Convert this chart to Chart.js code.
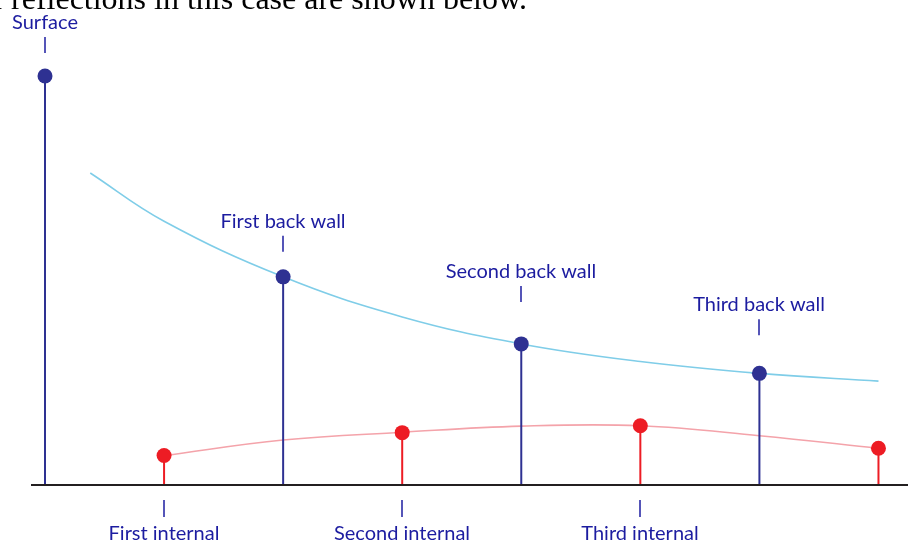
<!DOCTYPE html>
<html>
<head>
<meta charset="utf-8">
<script src="https://cdn.jsdelivr.net/npm/chart.js@4/dist/chart.umd.min.js"></script>
<style>
  html, body { margin: 0; padding: 0; background: #fff; }
  canvas { display: block; }
</style>
</head>
<body>
<canvas id="echoChart" width="908" height="545"></canvas>
<script>
// Reflection positions (time steps) and amplitudes
const wallPos = [0, 2, 4, 6];
const wallAmp = [100, 50.9, 34.5, 27.3];
const wallLabels = ['Surface', 'First back wall', 'Second back wall', 'Third back wall'];

const internalPos = [1, 3, 5, 7];
const internalAmp = [7.2, 12.8, 14.5, 9.0];
const internalLabels = ['First internal', 'Second internal', 'Third internal'];

// Envelope curves
const decayPos = [0.38, 1, 2, 3, 4, 5, 6, 7];
const decayAmp = [76.3, 64.5, 50.9, 41.1, 34.5, 30.2, 27.3, 25.4];
const trendPos = [1, 2, 3, 4, 5, 6, 7];
const trendAmp = [7.2, 11.0, 12.9, 14.4, 14.5, 12.05, 9.0];

const caption = 'of reflections in this case are shown below.';

const NAVY = '#2e3192';
const RED = '#ed1c24';
const LABEL = '#1c1ca0';

const pts = (xs, ys) => xs.map((x, i) => ({ x: x, y: ys[i] }));

// baseline + labels drawn from the scales
const annotations = {
  id: 'annotations',
  afterDatasetsDraw(chart) {
    const ctx = chart.ctx;
    const ys = chart.scales.y;
    const area = chart.chartArea;
    const y0 = ys.getPixelForValue(0);

    ctx.save();
    ctx.strokeStyle = '#231f20';
    ctx.lineWidth = 2;
    ctx.beginPath();
    ctx.moveTo(area.left, y0);
    ctx.lineTo(area.right, y0);
    ctx.stroke();
    ctx.restore();
  },
  afterDraw(chart) {
    const ctx = chart.ctx;
    const xs = chart.scales.x;
    const ys = chart.scales.y;
    const y0 = ys.getPixelForValue(0);
    const gaps = [23, 25, 42, 38];

    ctx.save();
    ctx.fillStyle = LABEL;
    ctx.strokeStyle = LABEL;
    ctx.lineWidth = 1.5;
    ctx.font = '20px Lato';
    ctx.textAlign = 'center';
    ctx.textBaseline = 'alphabetic';

    wallLabels.forEach((txt, i) => {
      const px = Math.round(xs.getPixelForValue(wallPos[i]));
      const py = ys.getPixelForValue(wallAmp[i]);
      const tickBottom = py - gaps[i];
      const tickTop = tickBottom - 16;
      ctx.beginPath();
      ctx.moveTo(px, tickTop);
      ctx.lineTo(px, tickBottom);
      ctx.stroke();
      ctx.fillText(txt, px, tickTop - 8);
    });

    internalLabels.forEach((txt, i) => {
      const px = Math.round(xs.getPixelForValue(internalPos[i]));
      ctx.beginPath();
      ctx.moveTo(px, y0 + 15);
      ctx.lineTo(px, y0 + 32);
      ctx.stroke();
      ctx.fillText(txt, px, y0 + 55);
    });

    // caption line cut off at the top of the figure
    ctx.fillStyle = '#000';
    ctx.font = '32px "Liberation Serif"';
    ctx.textAlign = 'right';
    ctx.fillText(caption, 527, 9);
    ctx.restore();
  }
};

new Chart(document.getElementById('echoChart').getContext('2d'), {
  type: 'scatter',
  data: {
    datasets: [
      {
        type: 'line',
        data: pts(decayPos, decayAmp),
        borderColor: '#7fcde8',
        borderWidth: 1.6,
        pointRadius: 0,
        tension: 0.4,
        fill: false,
        order: 4
      },
      {
        type: 'line',
        data: pts(trendPos, trendAmp),
        borderColor: '#f4a3aa',
        borderWidth: 1.6,
        pointRadius: 0,
        tension: 0.4,
        fill: false,
        order: 4
      },
      {
        type: 'bar',
        data: pts(wallPos, wallAmp),
        backgroundColor: NAVY,
        grouped: false,
        maxBarThickness: 2,
        order: 3
      },
      {
        type: 'bar',
        data: pts(internalPos, internalAmp),
        backgroundColor: RED,
        grouped: false,
        maxBarThickness: 2,
        order: 3
      },
      {
        data: pts(wallPos, wallAmp),
        backgroundColor: NAVY,
        borderWidth: 0,
        pointRadius: 7.5,
        order: 1
      },
      {
        data: pts(internalPos, internalAmp),
        backgroundColor: RED,
        borderWidth: 0,
        pointRadius: 7.5,
        order: 1
      }
    ]
  },
  options: {
    responsive: false,
    animation: false,
    devicePixelRatio: 1,
    layout: {
      autoPadding: false,
      padding: { left: 31, right: 0, top: 0, bottom: 60 }
    },
    plugins: {
      legend: { display: false },
      tooltip: { enabled: false }
    },
    scales: {
      x: {
        type: 'linear',
        display: false,
        offset: false,
        min: -0.1176,
        max: 7.248
      },
      y: {
        type: 'linear',
        display: false,
        min: 0,
        max: 118.6
      }
    }
  },
  plugins: [annotations]
});
</script>
</body>
</html>
